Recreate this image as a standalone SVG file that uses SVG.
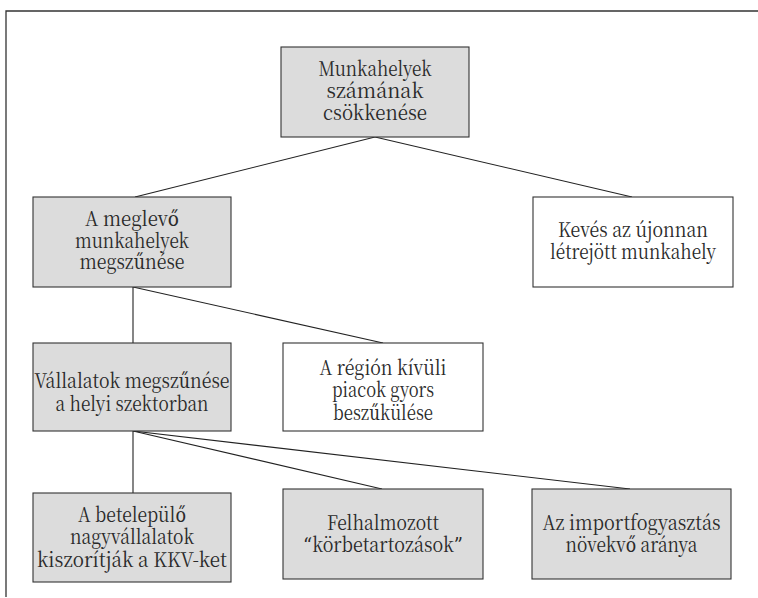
<svg xmlns="http://www.w3.org/2000/svg" width="758" height="598" viewBox="0 0 758 598">
  <style>
    .box { stroke: #333; stroke-width: 1.1; }
    .gray { fill: #dcdcdc; }
    .white { fill: #ffffff; }
    .lbl { font-family: "Noto Serif CJK SC", "DejaVu Serif", serif; font-size: 20px; fill: #2a2a2a; text-anchor: middle; }
    .q { font-family: "DejaVu Serif", serif; }
    .conn line { stroke: #222; stroke-width: 1.1; }
    .frame { stroke: #333; stroke-width: 1.3; fill: none; }
  </style>
  <rect width="758" height="598" fill="#ffffff"/>

  <!-- outer frame (top and left edges only) -->
  <polyline class="frame" points="758,11 6,11 6,597"/>

  <!-- connectors -->
  <g id="connectors" class="conn">
    <line x1="375" y1="137" x2="135" y2="197"/>
    <line x1="375" y1="137" x2="632" y2="197"/>
    <line x1="133" y1="287" x2="133" y2="343"/>
    <line x1="133" y1="287" x2="383" y2="343"/>
    <line x1="133" y1="431" x2="133" y2="493"/>
    <line x1="133" y1="431" x2="382" y2="489"/>
    <line x1="133" y1="431" x2="630" y2="489"/>
  </g>

  <g id="n-munkahelyek">
    <rect class="box gray" x="281" y="47" width="188" height="90"/>
    <text class="lbl" x="375" y="76" textLength="113" lengthAdjust="spacingAndGlyphs">Munkahelyek</text>
    <text class="lbl" x="375" y="98" textLength="97" lengthAdjust="spacingAndGlyphs">számának</text>
    <text class="lbl" x="375" y="120" textLength="104" lengthAdjust="spacingAndGlyphs">csökkenése</text>
  </g>

  <g id="n-meglevo">
    <rect class="box gray" x="33" y="197" width="198" height="90"/>
    <text class="lbl" x="132" y="226" textLength="94" lengthAdjust="spacingAndGlyphs">A meglevő</text>
    <text class="lbl" x="132" y="247.5" textLength="114" lengthAdjust="spacingAndGlyphs">munkahelyek</text>
    <text class="lbl" x="132" y="269" textLength="105" lengthAdjust="spacingAndGlyphs">megszűnése</text>
  </g>

  <g id="n-keves">
    <rect class="box white" x="533" y="197" width="200" height="90"/>
    <text class="lbl" x="633" y="236.5" textLength="150" lengthAdjust="spacingAndGlyphs">Kevés az újonnan</text>
    <text class="lbl" x="633" y="258.5" textLength="166" lengthAdjust="spacingAndGlyphs">létrejött munkahely</text>
  </g>

  <g id="n-vallalatok">
    <rect class="box gray" x="33" y="343" width="198" height="88"/>
    <text class="lbl" x="132" y="388" textLength="195" lengthAdjust="spacingAndGlyphs">Vállalatok megszűnése</text>
    <text class="lbl" x="132" y="410.5" textLength="153" lengthAdjust="spacingAndGlyphs">a helyi szektorban</text>
  </g>

  <g id="n-regio">
    <rect class="box white" x="283" y="343" width="200" height="88"/>
    <text class="lbl" x="383" y="375" textLength="127" lengthAdjust="spacingAndGlyphs">A régión kívüli</text>
    <text class="lbl" x="383" y="397" textLength="102" lengthAdjust="spacingAndGlyphs">piacok gyors</text>
    <text class="lbl" x="383" y="419.5" textLength="100" lengthAdjust="spacingAndGlyphs">beszűkülése</text>
  </g>

  <g id="n-betelepulo">
    <rect class="box gray" x="33" y="493" width="198" height="89"/>
    <text class="lbl" x="132" y="521.5" textLength="108" lengthAdjust="spacingAndGlyphs">A betelepülő</text>
    <text class="lbl" x="132" y="543.5" textLength="124" lengthAdjust="spacingAndGlyphs">nagyvállalatok</text>
    <text class="lbl" x="132" y="566.5" textLength="190" lengthAdjust="spacingAndGlyphs">kiszorítják a KKV-ket</text>
  </g>

  <g id="n-korbetartozasok">
    <rect class="box gray" x="283" y="489" width="200" height="90"/>
    <text class="lbl" x="383" y="530" textLength="112" lengthAdjust="spacingAndGlyphs">Felhalmozott</text>
    <text class="lbl" x="383" y="552" textLength="160" lengthAdjust="spacingAndGlyphs"><tspan class="q">“</tspan>körbetartozások<tspan class="q">”</tspan></text>
  </g>

  <g id="n-import">
    <rect class="box gray" x="532" y="489" width="199" height="90"/>
    <text class="lbl" x="631.5" y="530" textLength="178" lengthAdjust="spacingAndGlyphs">Az importfogyasztás</text>
    <text class="lbl" x="631.5" y="552" textLength="132" lengthAdjust="spacingAndGlyphs">növekvő aránya</text>
  </g>
</svg>
